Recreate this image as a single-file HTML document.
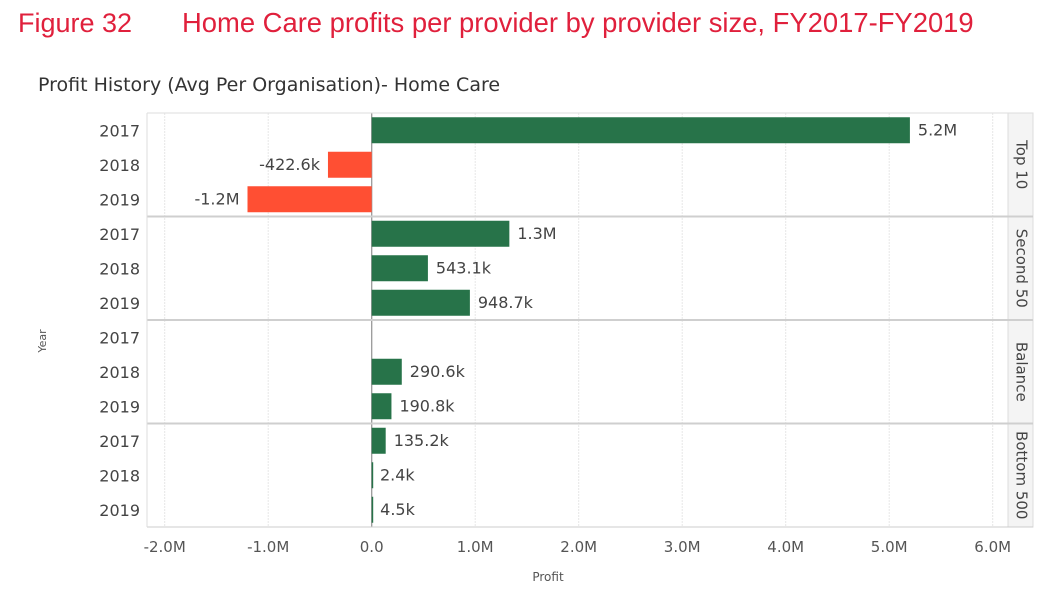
<!DOCTYPE html>
<html><head><meta charset="utf-8"><style>
body{margin:0;background:#fff;width:1060px;height:597px;overflow:hidden;font-family:"Liberation Sans","DejaVu Sans",sans-serif}
svg text{font-family:"DejaVu Sans","Liberation Sans",sans-serif}
</style></head><body>
<svg id="chart" width="1060" height="597">
<text x="18" y="32" font-size="27" fill="#e0203c" style="font-family:'Liberation Sans',sans-serif">Figure 32</text>
<text x="182" y="32" font-size="27.4" fill="#e0203c" style="font-family:'Liberation Sans',sans-serif">Home Care profits per provider by provider size, FY2017-FY2019</text>
<text x="38" y="91" font-size="19" fill="#333">Profit History (Avg Per Organisation)- Home Care</text>
<text transform="translate(46,341) rotate(-90)" font-size="11" fill="#555" text-anchor="middle">Year</text>
<text x="548" y="581" font-size="12" fill="#555" text-anchor="middle">Profit</text>
<g id="g"></g>
</svg>
<script>
const groups=["Top 10","Second 50","Balance","Bottom 500"];
const years=["2017","2018","2019"];
const top10=[5200000,-422600,-1200000];
const second50=[1330000,543100,948700];
const balance=[null,290600,190800];
const bottom500=[135200,2400,4500];
const labelsTop10=["5.2M","-422.6k","-1.2M"];
const labelsSecond50=["1.3M","543.1k","948.7k"];
const labelsBalance=["","290.6k","190.8k"];
const labelsBottom500=["135.2k","2.4k","4.5k"];
const ticks=[-2000000,-1000000,0,1000000,2000000,3000000,4000000,5000000,6000000];
const tickLabels=["-2.0M","-1.0M","0.0","1.0M","2.0M","3.0M","4.0M","5.0M","6.0M"];
const series=[top10,second50,balance,bottom500];
const labels=[labelsTop10,labelsSecond50,labelsBalance,labelsBottom500];

const NS="http://www.w3.org/2000/svg";
const g=document.getElementById('g');
const L=147,R=1008,T=113,B=527,SR=1033;
const x=v=>371.7+v/1000000*103.5;
const panelH=(B-T)/groups.length, rowH=panelH/years.length;
function el(t,a,p){const e=document.createElementNS(NS,t);for(const k in a)e.setAttribute(k,a[k]);(p||g).appendChild(e);return e;}
const strip=el('rect',{x:R,y:T,width:SR-R,height:B-T,fill:'#f4f4f4',stroke:'#ddd'});


ticks.forEach((t,i)=>{
 const ln=el('line',{x1:x(t),x2:x(t),y1:T,y2:B,stroke:t===0?'#999':'#e6e6e6','stroke-width':t===0?1.3:1,'stroke-dasharray':t===0?'':'2,1'});
 
 
 const tx=el('text',{x:x(t),y:552,'font-size':15,fill:'#555','text-anchor':'middle'});
 tx.textContent=tickLabels[i];
 
 
});
groups.forEach((gr,gi)=>{
 const y0=T+gi*panelH;
 const sep=el('line',{x1:L,x2:SR,y1:y0,y2:y0,stroke:gi===0?'#ddd':'#cfcfcf','stroke-width':gi===0?1:2});
 
 
 const st=el('text',{transform:`translate(${R+13},${y0+panelH/2}) rotate(90)`,'font-size':15,fill:'#444','text-anchor':'middle','dominant-baseline':'middle'});
 st.textContent=gr;
 
 
 years.forEach((yr,yi)=>{
  const cy=y0+rowH*(yi+0.5);
  const yl=el('text',{x:140,y:cy+6,'font-size':16,fill:'#444','text-anchor':'end'});
  yl.textContent=yr;
  
  
  const v=series[gi][yi];
  if(v===null)return;
  const x0=Math.min(x(0),x(v)),w=Math.max(Math.abs(x(v)-x(0)),1.5);
  const b=el('rect',{x:x0,y:cy-13,width:w,height:26,fill:v<0?'#ff4f33':'#277349'});
  
  
  const t=el('text',{x:v<0?x(v)-8:x(v)+8,y:cy+5,'font-size':16,fill:'#444','text-anchor':v<0?'end':'start'});
  t.textContent=labels[gi][yi];
  
  
 });
});
const bl=el('line',{x1:L,x2:SR,y1:B,y2:B,stroke:'#ccc'});


const ll=el('line',{x1:L,x2:L,y1:T,y2:B,stroke:'#ddd'});


</script>
</body></html>
